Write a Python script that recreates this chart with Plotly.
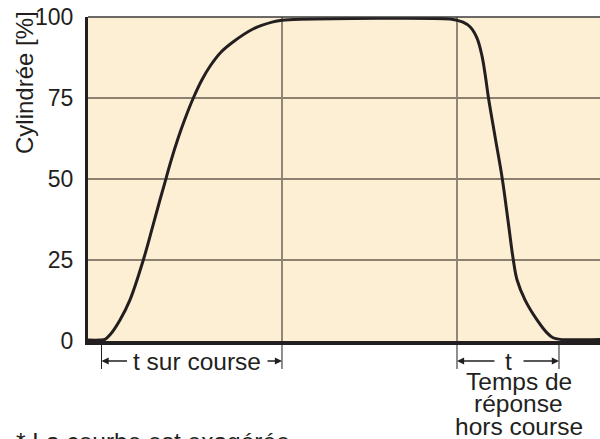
import plotly.graph_objects as go

# Displacement response of the pump (time in arbitrary units, displacement in %)
time = [0.0, 2.34, 3.32, 4.30, 6.25, 8.20, 10.80, 12.64, 14.06, 15.18, 16.02,
        17.64, 18.95, 20.57, 22.21, 23.83, 26.00, 28.32, 32.23, 36.13, 37.89,
        41.41, 70.70, 72.07, 73.24, 74.61, 75.98, 76.95, 77.64, 78.22, 79.49,
        80.92, 82.09, 83.07, 83.79, 85.35, 87.70, 89.65, 90.82, 92.19, 100.0]
displacement = [0.3, 0.3, 0.5, 1.9, 6.5, 12.7, 25.0, 35.4, 43.6, 49.8, 54.6,
                62.8, 68.6, 75.0, 80.5, 84.8, 89.2, 92.3, 96.3, 98.5, 99.0,
                99.3, 99.4, 99.0, 98.4, 97.0, 93.5, 88.0, 81.5, 75.0, 63.2,
                50.0, 36.5, 25.0, 18.9, 12.7, 6.5, 2.5, 1.0, 0.5, 0.5]

y_ticks = [0, 25, 50, 75, 100]

# Event times used for the dimension markers
t_start = 2.64      # start of on-stroke
t_full = 37.89      # full displacement reached
t_release = 72.07   # start of off-stroke
t_zero = 91.99      # zero displacement reached

X_RANGE = [0, 100]
Y_RANGE = [0, 100]

INK = "#231f20"
FONT = "Liberation Sans, Arial, Helvetica, sans-serif"
FS_TICK = 23
FS_TEXT = 24.5

# layout geometry (pixels)
W, H = 600, 439
ML, MR, MT, MB = 88, 0, 17, 98
PW, PH = W - ML - MR, H - MT - MB


def xp(x):
    return (x - X_RANGE[0]) / (X_RANGE[1] - X_RANGE[0])


def yp_px(py):
    # pixel row from the top of the figure -> paper coordinate
    return (PH + MT - py) / PH


fig = go.Figure()

fig.add_trace(go.Scatter(
    x=time, y=displacement, mode="lines",
    line=dict(color=INK, width=3, shape="spline", smoothing=1.0),
    hoverinfo="skip", showlegend=False, cliponaxis=False,
))

shapes = []
# vertical reference lines through the plot
for t in (t_full, t_release):
    shapes.append(dict(type="line", xref="x", yref="paper", x0=t, x1=t,
                       y0=0, y1=1, line=dict(color=INK, width=1), layer="below"))
# top border
shapes.append(dict(type="line", xref="paper", yref="paper", x0=0, x1=1,
                   y0=1, y1=1, line=dict(color="#3a3a3a", width=1.5)))
# extension lines below the axis
y_ext0, y_ext1 = yp_px(343), yp_px(369)
for t in (t_start, t_full, t_release, t_zero):
    shapes.append(dict(type="line", xref="paper", yref="paper",
                       x0=xp(t), x1=xp(t), y0=y_ext0, y1=y_ext1,
                       line=dict(color=INK, width=1)))

y_dim = yp_px(361)
annotations = []


def arrow(t, dx):
    # arrowhead at time t, tail offset dx pixels
    annotations.append(dict(
        xref="paper", yref="paper", x=xp(t), y=y_dim, ax=dx, ay=0,
        text="", showarrow=True, arrowhead=2, arrowsize=1.1, arrowwidth=1.3,
        arrowcolor=INK, standoff=0,
    ))


arrow(t_start, 27)
arrow(t_full, -16)
arrow(t_release, 39)
arrow(t_zero, -37)

annotations.append(dict(
    xref="paper", yref="paper", x=xp((t_start + t_full) / 2), xshift=5, y=y_dim,
    text="t sur course", showarrow=False, xanchor="center", yanchor="middle",
    font=dict(family=FONT, size=FS_TEXT, color=INK),
))
annotations.append(dict(
    xref="paper", yref="paper", x=xp((t_release + t_zero) / 2), xshift=1, y=y_dim,
    text="t", showarrow=False, xanchor="center", yanchor="middle",
    font=dict(family=FONT, size=FS_TEXT, color=INK),
))
for line, py in (("Temps de", 381), ("réponse", 403), ("hors course", 426)):
    annotations.append(dict(
        xref="paper", yref="paper", x=xp((t_release + t_zero) / 2), xshift=11,
        y=yp_px(py), text=line, showarrow=False, xanchor="center",
        yanchor="middle", font=dict(family=FONT, size=FS_TEXT, color=INK),
    ))

# axis title
annotations.append(dict(
    xref="paper", yref="paper", x=(24 - ML) / PW, y=yp_px(83),
    text="Cylindrée [%]", textangle=-90, showarrow=False,
    xanchor="center", yanchor="middle",
    font=dict(family=FONT, size=24, color=INK),
))
# footnote
annotations.append(dict(
    xref="paper", yref="paper", x=(14 - ML) / PW, y=yp_px(441),
    text="* La courbe est exagérée.", showarrow=False,
    xanchor="left", yanchor="middle",
    font=dict(family=FONT, size=FS_TEXT, color=INK),
))

fig.update_layout(
    width=W, height=H,
    margin=dict(l=ML, r=MR, t=MT, b=MB, pad=0),
    paper_bgcolor="white",
    plot_bgcolor="#FDEFD3",
    font=dict(family=FONT, size=FS_TICK, color=INK),
    shapes=shapes,
    annotations=annotations,
    showlegend=False,
    xaxis=dict(range=X_RANGE, showgrid=False, zeroline=False,
               showticklabels=False, ticks="", showline=True,
               linecolor=INK, linewidth=3.5, fixedrange=True),
    yaxis=dict(range=Y_RANGE, tickvals=y_ticks, showgrid=True,
               gridcolor="#8c8070", gridwidth=1.5, zeroline=False,
               showline=True, linecolor=INK, linewidth=3, ticks="",
               ticklabelstandoff=7, fixedrange=True,
               tickfont=dict(family=FONT, size=FS_TICK, color=INK)),
)

fig.write_html("out.html")
